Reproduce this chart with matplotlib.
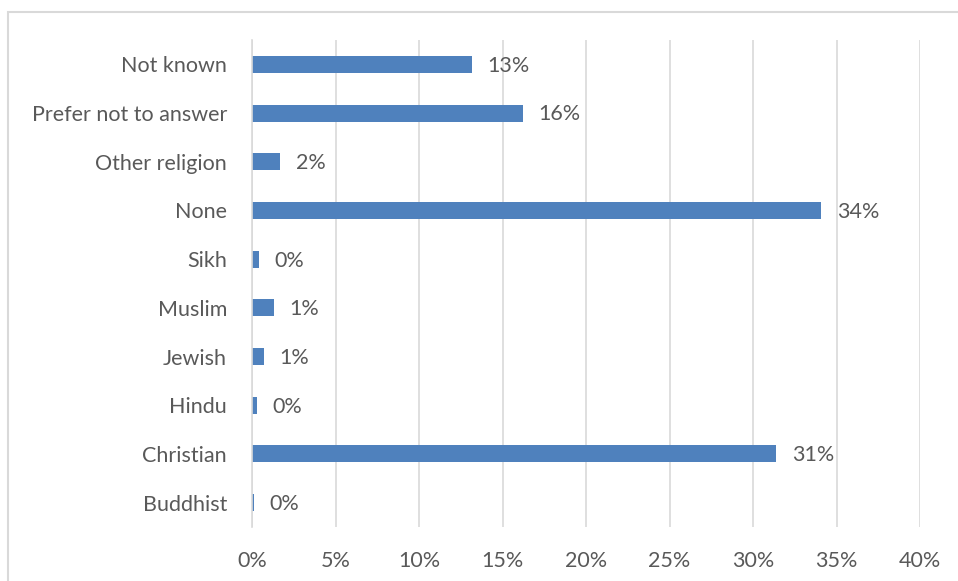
import matplotlib.pyplot as plt
from matplotlib.patches import Rectangle
from matplotlib.ticker import MultipleLocator, FuncFormatter

categories = ['Buddhist', 'Christian', 'Hindu', 'Jewish', 'Muslim', 'Sikh',
              'None', 'Other religion', 'Prefer not to answer', 'Not known']
shares = [0.1, 31.4, 0.3, 0.7, 1.3, 0.4, 34.1, 1.7, 16.2, 13.2]
labels = ['0%', '31%', '0%', '1%', '1%', '0%', '34%', '2%', '16%', '13%']

plt.rcParams['font.family'] = ['Lato', 'DejaVu Sans']
text_color = '#595959'
grid_color = '#d9d9d9'
bar_color = '#4f81bd'

fig = plt.figure(figsize=(9.58, 5.81), dpi=100)

# chart border (runs off the right and bottom edges)
fig.patches.append(Rectangle((8 / 958, -0.05), 1.0, 1 - 12 / 581 + 0.05,
                             transform=fig.transFigure, fill=False,
                             edgecolor=grid_color, linewidth=1.5))

ax = fig.add_axes([252 / 958, 54 / 581, 668 / 958, 487 / 581])

y = range(len(categories))
bars = ax.barh(y, shares, height=0.35, color=bar_color)

for bar, lab in zip(bars, labels):
    ax.annotate(lab, (bar.get_width(), bar.get_y() + bar.get_height() / 2),
                xytext=(11, -1), textcoords='offset points',
                ha='left', va='center', fontsize=15.5, color=text_color)

ax.set_xlim(0, 40)
ax.set_ylim(-0.5, len(categories) - 0.5)
ax.xaxis.set_major_locator(MultipleLocator(5))
ax.xaxis.set_major_formatter(FuncFormatter(lambda v, p: f'{v:.0f}%'))
ax.set_yticks(list(y))
ax.set_yticklabels(categories)

ax.grid(axis='x', color=grid_color, linewidth=1.2)
ax.set_axisbelow(True)
for side in ['top', 'right', 'bottom']:
    ax.spines[side].set_visible(False)
ax.spines['left'].set_color(grid_color)
ax.spines['left'].set_linewidth(1.2)

ax.tick_params(axis='both', length=0, labelsize=15.5, labelcolor=text_color)
ax.tick_params(axis='x', pad=17)
ax.tick_params(axis='y', pad=18)

fig.savefig('out.png', dpi=100)
